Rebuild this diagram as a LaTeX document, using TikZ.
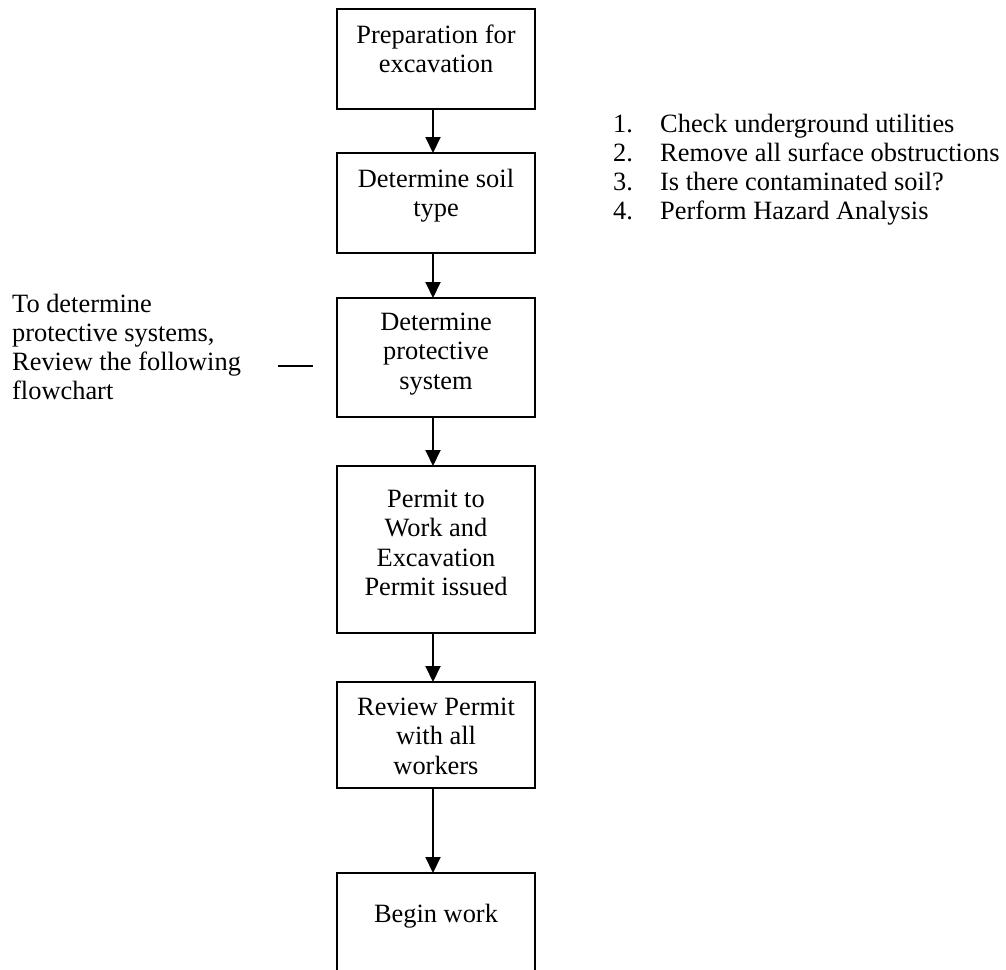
\documentclass[tikz,border=0pt]{standalone}
\usepackage{fontspec}
\setmainfont{Liberation Serif}
\usetikzlibrary{arrows.meta}
\begin{document}
\begin{tikzpicture}[x=1pt,y=-1pt,
  box/.style={draw, line width=1.8pt, minimum width=198pt, inner sep=0pt, outer sep=0pt, anchor=north},
  boxtext/.style={anchor=north, inner sep=0pt, align=center, font=\fontsize{26.4}{29.5}\selectfont},
  plaintext/.style={anchor=north west, inner sep=0pt, align=left, font=\fontsize{26.4}{29.2}\selectfont},
  arr/.style={-{Triangle[width=15pt,length=16pt]}, line width=2pt},
  dashline/.style={line width=1.8pt}]
\useasboundingbox (0,0) rectangle (1006,969);
\clip (0,0) rectangle (1006,969);
% boxes
\node[box, minimum height=100pt] (b1) at (436,9) {};
\node[box, minimum height=100pt] (b2) at (436,153) {};
\node[box, minimum height=119pt] (b3) at (436,298) {};
\node[box, minimum height=167pt] (b4) at (436,466) {};
\node[box, minimum height=106pt] (b5) at (436,682) {};
\node[box, minimum height=140pt] (b6) at (436,873) {};
% box texts
\node[boxtext] (t1) at (b1.north) {\rule{0pt}{34pt}Preparation for\\excavation};
\node[boxtext] (t2) at (b2.north) {\rule{0pt}{34pt}Determine soil\\type};
\node[boxtext] (t3) at (b3.north) {\rule{0pt}{32pt}Determine\\protective\\system};
\node[boxtext] (t4) at (b4.north) {\rule{0pt}{41pt}Permit to\\Work and\\Excavation\\Permit issued};
\node[boxtext] (t5) at (b5.north) {\rule{0pt}{33pt}Review Permit\\with all\\workers};
\node[boxtext] (t6) at (b6.north) {\rule{0pt}{49pt}Begin work};
% arrows
\draw[arr] ([xshift=-3pt]b1.south) -- ([xshift=-3pt]b2.north);
\draw[arr] ([xshift=-3pt]b2.south) -- ([xshift=-3pt]b3.north);
\draw[arr] ([xshift=-3pt]b3.south) -- ([xshift=-3pt]b4.north);
\draw[arr] ([xshift=-3pt]b4.south) -- ([xshift=-3pt]b5.north);
\draw[arr] ([xshift=-3pt]b5.south) -- ([xshift=-3pt]b6.north);
% side notes
\node[plaintext] (note) at (12,280) {\rule{0pt}{32pt}To determine\\protective systems,\\Review the following\\flowchart};
\coordinate (d1) at (278,366);
\coordinate (d2) at (313,366);
\draw[dashline] (d1) -- (d2);
\node[plaintext] (list) at (613,100) {\rule{0pt}{32pt}\makebox[47pt][l]{1.}Check underground utilities\\
\makebox[47pt][l]{2.}Remove all surface obstructions\\
\makebox[47pt][l]{3.}Is there contaminated soil?\\
\makebox[47pt][l]{4.}Perform Hazard Analysis};
\end{tikzpicture}
\end{document}
